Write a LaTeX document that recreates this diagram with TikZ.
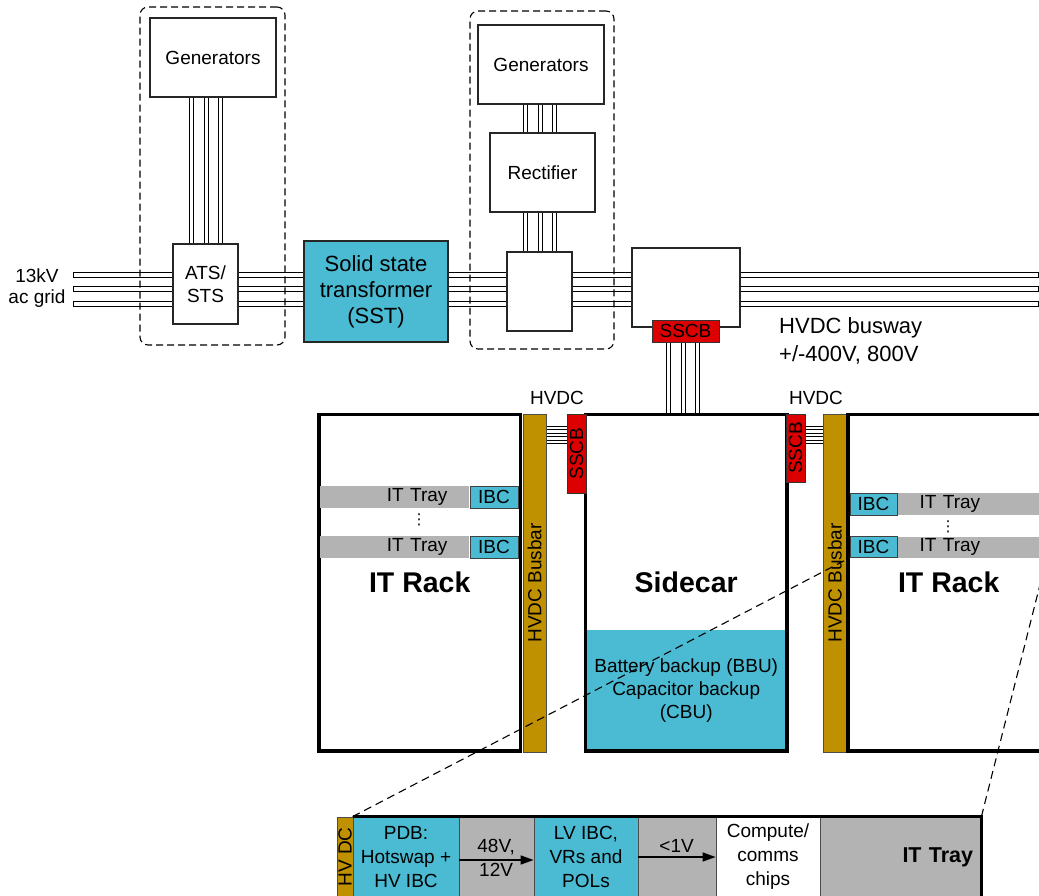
\documentclass[tikz,border=0pt]{standalone}
\usepackage{fontspec}
\setmainfont{Liberation Sans}
\newfontfamily\dotsfont{DejaVu Sans}
\usetikzlibrary{calc,arrows.meta,backgrounds}

\definecolor{sstblue}{RGB}{74,187,211}
\definecolor{busgold}{RGB}{191,144,0}
\definecolor{cbred}{RGB}{221,0,0}
\definecolor{traygray}{RGB}{179,179,179}

\begin{document}
\begin{tikzpicture}[
        x=1pt, y=-1pt,
        box/.style={rectangle, draw=black!85, line width=1.1pt, fill=white, inner sep=0pt, align=center, font=\fontsize{19}{23}\selectfont},
        group/.style={rectangle, draw, dash pattern=on 7pt off 4pt, rounded corners=8pt, line width=1.1pt, minimum width=145pt, minimum height=338pt},
        busline/.style={draw, fill=white, line width=1pt},
        bus/.style={double, double distance=3.2pt, line width=0.9pt},
        link/.style={double, double distance=2.4pt, line width=0.7pt},
        rack/.style={rectangle, draw, line width=3.5pt, minimum width=201.5pt, minimum height=336.5pt, font=\fontsize{28.5}{34}\selectfont\bfseries},
        busbar/.style={rectangle, draw=black!70, line width=0.8pt, fill=busgold, rotate=90, inner sep=0pt, minimum width=338pt, minimum height=23pt, font=\fontsize{19}{23}\selectfont},
        breaker/.style={rectangle, draw=black!80, line width=0.8pt, fill=cbred, inner sep=0pt, font=\fontsize{19}{23}\selectfont},
        ibc/.style={rectangle, draw=black!75, line width=0.8pt, fill=sstblue, inner sep=0pt, minimum width=48pt, minimum height=22pt, font=\fontsize{19}{23}\selectfont},
        tray/.style={rectangle, fill=traygray, inner ysep=0pt, inner xsep=22pt, text width=105pt, minimum height=22pt, font=\fontsize{19}{23}\selectfont},
        blk/.style={rectangle, draw=black!70, line width=0.8pt, inner sep=0pt, minimum height=80pt, align=center, font=\fontsize{19}{24}\selectfont},
        label/.style={inner sep=0pt, font=\fontsize{19}{23}\selectfont},
        vdotsmark/.style={inner sep=0pt, font=\dotsfont\fontsize{15}{15}\selectfont},
        zoomline/.style={dash pattern=on 8pt off 5pt, line width=1.1pt},
        flow/.style={-{Triangle[length=13pt,width=9pt]}, line width=1.4pt}
    ]
        \useasboundingbox (0,0) rectangle (1039,896);
        \clip (0,0) rectangle (1039,896);

        % ac grid and HVDC busway
        \coordinate (busL) at (73,289);
        \coordinate (busR) at (1038,289);
        \foreach \dy in {-14.5,0,14.5}
            \draw[busline] ($(busL)+(0,{\dy-2.5})$) rectangle ($(busR)+(0,{\dy+2.5})$);

        \node[label, align=center, font=\fontsize{19}{21}\selectfont] (grid) at (37,288) {13kV\\ac grid};
        \node[label, anchor=west, align=left, font=\fontsize{22}{28}\selectfont] (busway) at (779,341) {HVDC busway\\+/-400V, 800V};

        % Backup groups
        \node[group] (grp1) at (212.5,176) {};
        \node[group, minimum width=144pt] (grp2) at (542,180) {};

        % Sources and conversion
        \node[box, minimum width=126pt, minimum height=79pt] (gen1) at (213,57.5) {Generators};
        \node[box, minimum width=65pt, minimum height=80pt] (ats) at (205.5,284) {ATS/\\STS};
        \node[box, fill=sstblue, minimum width=144pt, minimum height=101pt, font=\fontsize{22}{26}\selectfont] (sst) at (376,291.5) {Solid state\\transformer\\(SST)};
        \node[box, minimum width=126pt, minimum height=79pt] (gen2) at (541,64.5) {Generators};
        \node[box, minimum width=105pt, minimum height=79pt] (rect) at (542.5,172.5) {Rectifier};
        \node[box, minimum width=65pt, minimum height=79pt] (dcjoin) at (539.5,291.5) {};
        \node[box, minimum width=108pt, minimum height=79pt] (dcout) at (686,287.5) {};
        \node[breaker, minimum width=67pt, minimum height=22pt] (sscb) at (685.5,331) {SSCB};

        % Racks
        \node[rack] (rackL) at (419.75,582.75) {IT Rack};
        \node[busbar] (busbarL) at (534.5,583) {HVDC Busbar};
        \node[box, draw=none, fill=sstblue, minimum width=201.7pt, minimum height=121pt] (bbu) at (686.2,690.5) {Battery backup (BBU)\\Capacitor backup\\(CBU)};
        \node[rack] (sidecar) at (686.2,582.75) {Sidecar};
        \node[breaker, rotate=90, minimum width=79pt, minimum height=19pt] (sscbL) at (576.5,453.5) {SSCB};
        \node[breaker, rotate=90, minimum width=68pt, minimum height=19pt] (sscbR) at (795.5,448) {SSCB};
        \node[busbar] (busbarR) at (834.7,583) {HVDC Busbar};
        \node[rack] (rackR) at (948.75,582.75) {IT Rack};

        \node[label] (hvdcL) at (557,398) {HVDC};
        \node[label] (hvdcR) at (816,398) {HVDC};

        % IT trays in the racks
        \node[ibc] (ibcL1) at (494,497) {IBC};
        \node[tray, align=right, anchor=east] (trayL1) at (ibcL1.west) {IT Tray};
        \node[ibc] (ibcL2) at (494,547) {IBC};
        \node[tray, align=right, anchor=east] (trayL2) at (ibcL2.west) {IT Tray};
        \node[vdotsmark] (dotsL) at (419,520) {⋮};

        \node[ibc, minimum width=47pt] (ibcR1) at (873.5,504) {IBC};
        \node[tray, align=left, anchor=west] (trayR1) at (ibcR1.east) {IT Tray};
        \node[ibc, minimum width=47pt, minimum height=21pt] (ibcR2) at (873.5,547) {IBC};
        \node[tray, align=left, anchor=west, minimum height=21pt] (trayR2) at (ibcR2.east) {IT Tray};
        \node[vdotsmark] (dotsR) at (948,527) {⋮};

        % IT tray detail
        \node[blk, fill=busgold, rotate=90, minimum width=80pt, minimum height=16pt] (hvin) at (345,857) {HV DC};
        \node[blk, fill=sstblue, minimum width=106pt] (pdb) at (406,857) {PDB:\\Hotswap +\\HV IBC};
        \node[blk, fill=traygray, minimum width=75pt] (hvout) at (496.5,857) {};
        \node[blk, fill=sstblue, minimum width=104pt] (lvibc) at (586,857) {LV IBC,\\VRs and\\POLs};
        \node[blk, fill=traygray, minimum width=78pt] (lvout) at (677,857) {};
        \node[blk, fill=white, minimum width=104pt] (chips) at (768,857) {Compute/\\comms\\chips};
        \node[blk, fill=traygray, minimum width=161pt, text width=145pt, align=right, font=\fontsize{21.5}{26}\selectfont\bfseries] (ittray) at (900.5,857) {IT Tray};
        \draw[line width=3.5pt] (pdb.north west) -- (ittray.north east) -- (ittray.south east);

        \draw[flow] (hvout.west |- 0,860) -- (lvibc.west |- 0,860)
            node[midway, above=4pt, label] {48V,} node[midway, below=3pt, label] {12V};
        \draw[flow] (lvout.west |- 0,857) -- (chips.west |- 0,857)
            node[midway, above=4pt, label] {<1V};

        % Zoom lines
        \draw[zoomline] (pdb.north west) -- (ibcR2.south west);
        \draw[zoomline] (ittray.north east) -- (trayR2.south east);

        % Cable bundles
        \begin{scope}[on background layer]
            \foreach \x in {191.5,206.5,220.5}
                \draw[bus] (gen1.south -| \x,0) -- (ats.north -| \x,0);
            \foreach \x in {525.5,540.2,554.8} {
                \draw[bus] (gen2.south -| \x,0) -- (rect.north -| \x,0);
                \draw[bus] (rect.south -| \x,0) -- (dcjoin.north -| \x,0);
            }
            \foreach \x in {668.8,683.2,697.7}
                \draw[bus] (sscb.south -| \x,0) -- (sidecar.north -| \x,0);
            \foreach \y in {427.8,435,441.7} {
                \draw[link] (busbarL.south |- 0,\y) -- (sscbL.north |- 0,\y);
                \draw[link] (sscbR.south |- 0,\y) -- (busbarR.north |- 0,\y);
            }
        \end{scope}
    \end{tikzpicture}
\end{document}
